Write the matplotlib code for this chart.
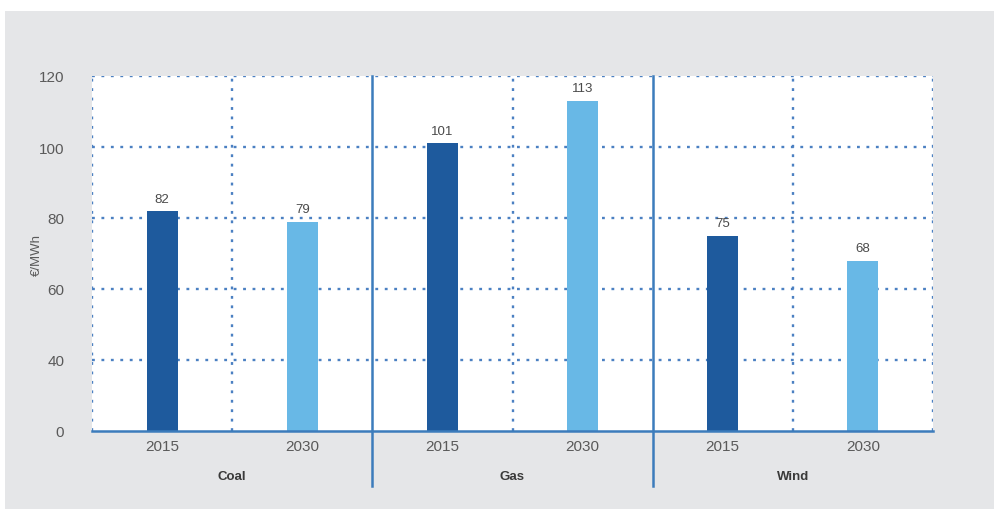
import matplotlib.pyplot as plt
from matplotlib.patches import Rectangle
from matplotlib.transforms import blended_transform_factory

# Levelised cost of electricity by technology
groups = ["Coal", "Gas", "Wind"]
years = ["2015", "2030"]
values_2015 = [82, 101, 75]
values_2030 = [79, 113, 68]
ytick_values = [20, 40, 60, 80, 100, 120]
ytick_labels = ["0", "40", "60", "80", "100", "120"]

plt.rcParams['font.family'] = ['Liberation Sans', 'DejaVu Sans']

W, H = 994, 510
fig = plt.figure(figsize=(W / 100, H / 100), dpi=100, facecolor="white")

# grey backdrop panel
fig.patches.append(Rectangle((5 / W, 0), 1 - 5 / W, 1 - 12 / H, transform=fig.transFigure,
                             facecolor="#e5e6e8", edgecolor="none", zorder=-10))

ax = fig.add_axes([92 / W, (H - 432) / H, (933 - 92) / W, (432 - 77) / H])
ax.set_facecolor("white")

dark = "#1e5a9d"
light = "#68b8e6"
grid_c = "#4b80c2"
sep_c = "#3c7cbc"
text_c = "#5a5a5a"

n = len(groups)
x15 = [2 * i + 0.5 for i in range(n)]
x30 = [2 * i + 1.5 for i in range(n)]
bw = 0.22

ax.bar(x15, values_2015, width=bw, color=dark, zorder=3)
ax.bar(x30, values_2030, width=bw, color=light, zorder=3)

for xs, vs in ((x15, values_2015), (x30, values_2030)):
    for x, v in zip(xs, vs):
        ax.text(x, v + 1.8, str(v), ha="center", va="bottom", fontsize=9.5, color="#4a4a4a", zorder=4)

ax.set_xlim(0, 2 * n)
ax.set_ylim(20, 120)

dot = (0, (1.2, 2.8))
for y in ytick_values[1:]:
    ax.axhline(y, color=grid_c, linestyle=dot, linewidth=1.7, zorder=1)
for x in [0] + [2 * i + 1 for i in range(n)] + [2 * n]:
    ax.axvline(x, color=grid_c, linestyle=dot, linewidth=1.7, zorder=1)

for s in ax.spines.values():
    s.set_visible(False)
ax.axhline(20, color=sep_c, linewidth=1.8, zorder=4, clip_on=False)

# solid separators between technology groups, extending below the axis
trans = blended_transform_factory(ax.transData, ax.transAxes)
drop = (487 - 432) / (432 - 77)
for i in range(1, n):
    ax.plot([2 * i, 2 * i], [1, -drop], transform=trans, color=sep_c, linewidth=1.8,
            clip_on=False, zorder=5)

ax.set_yticks(ytick_values)
ax.set_yticklabels(ytick_labels)
ax.set_xticks(x15 + x30)
ax.set_xticklabels([years[0]] * n + [years[1]] * n)
ax.tick_params(axis="both", length=0, labelsize=11, labelcolor=text_c)
ax.tick_params(axis="y", pad=20)
ax.tick_params(axis="x", pad=6)

for i, g in enumerate(groups):
    ax.text(2 * i + 1, -0.11, g, transform=trans, ha="center", va="top",
            fontsize=9.5, fontweight="bold", color="#3a3a3a")

ax.set_ylabel("€/MWh", fontsize=9.5, color=text_c)
ax.yaxis.set_label_coords(-0.058, 0.5)

fig.savefig("out.png", dpi=100, facecolor=fig.get_facecolor())
